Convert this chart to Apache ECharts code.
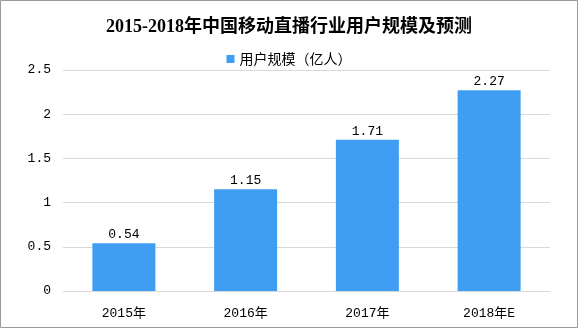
<!DOCTYPE html>
<html>
<head>
<meta charset="utf-8">
<script src="https://cdn.jsdelivr.net/npm/echarts@6/dist/echarts.min.js"></script>
<style>
html,body{margin:0;padding:0;background:#fff;}
#chart{width:578px;height:328px;}
</style>
</head>
<body>
<div id="chart"></div>
<script>
const titleText = '2015-2018年中国移动直播行业用户规模及预测';
const seriesName = '用户规模（亿人）';
const categories = ['2015年', '2016年', '2017年', '2018年E'];
const userScale = [0.54, 1.15, 1.71, 2.27];
const yTicks = [0, 0.5, 1, 1.5, 2, 2.5];

const monoFont = "'Liberation Mono', 'Noto Sans CJK SC', monospace";
const chart = echarts.init(document.getElementById('chart'));
chart.setOption({
  animation: false,
  backgroundColor: '#ffffff',
  title: {
    text: titleText,
    left: 'center',
    top: 13,
    textStyle: {
      fontFamily: "'Liberation Serif', 'Noto Sans CJK SC', serif",
      fontSize: 18,
      fontWeight: 'bold',
      color: '#000'
    }
  },
  legend: {
    data: [seriesName],
    top: 47,
    left: 'center',
    itemWidth: 8,
    itemHeight: 8,
    icon: 'rect',
    textStyle: {
      fontFamily: "'Noto Sans CJK SC', sans-serif",
      fontSize: 14,
      color: '#000'
    }
  },
  grid: {
    left: 63,
    right: 28,
    top: 70,
    bottom: 37
  },
  xAxis: {
    type: 'category',
    data: categories,
    axisLine: { show: true, lineStyle: { color: '#d9d9d9' } },
    axisTick: { show: false },
    axisLabel: {
      fontFamily: monoFont,
      fontSize: 13,
      color: '#000',
      margin: 16
    }
  },
  yAxis: {
    type: 'value',
    min: yTicks[0],
    max: yTicks[yTicks.length - 1],
    interval: 0.5,
    axisLine: { show: false },
    axisTick: { show: false },
    splitLine: { lineStyle: { color: '#d9d9d9' } },
    axisLabel: {
      fontFamily: monoFont,
      fontSize: 13,
      color: '#000',
      margin: 12
    }
  },
  series: [{
    name: seriesName,
    type: 'bar',
    data: userScale,
    barWidth: 63,
    itemStyle: { color: '#3f9ef1' },
    label: {
      show: true,
      position: 'top',
      distance: 2,
      fontFamily: monoFont,
      fontSize: 13,
      color: '#000'
    }
  }],
  graphic: [{
    type: 'rect',
    shape: { x: 0.5, y: 0.5, width: 577, height: 327 },
    style: { fill: 'none', stroke: '#999', lineWidth: 1 },
    silent: true,
    z: 100
  }]
});
</script>
</body>
</html>
